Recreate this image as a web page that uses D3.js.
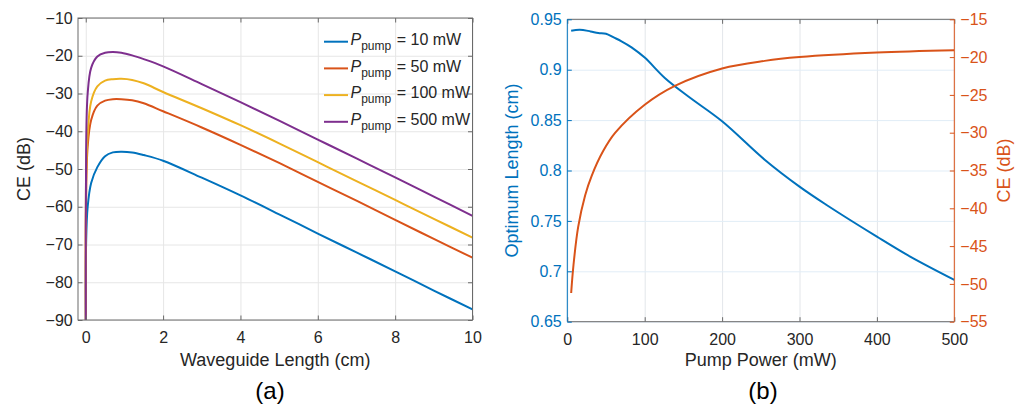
<!DOCTYPE html>
<html>
<head>
<meta charset="utf-8">
<script src="https://cdn.jsdelivr.net/npm/d3@7"></script>
<style>
body { margin: 0; background: #fff; }
svg { font-family: "Liberation Sans", Arial, Helvetica, sans-serif; }
</style>
</head>
<body>
<script>
// (a) CE vs waveguide length, one curve per pump power
const lenCm = [0.002, 0.01, 0.05, 0.14, 0.3, 0.5, 0.7, 0.92, 1.2, 1.5, 2, 3, 4, 5, 6, 7, 8, 9, 10]
const ce10 = [-90, -69.6, -60, -53.7, -49.5, -46.6, -45.6, -45.4, -45.6, -46.3, -47.8, -52.3, -57.0, -62.0, -67.1, -72.1, -77.1, -82.2, -87.2]
const ce50 = [-90, -58, -44, -37, -33.2, -31.9, -31.5, -31.5, -31.8, -32.6, -34.7, -39.0, -43.6, -48.4, -53.4, -58.4, -63.5, -68.5, -73.5]
const ce100 = [-90, -52, -41, -32.1, -28.1, -26.6, -26.2, -26.1, -26.4, -27.3, -29.6, -33.9, -38.4, -43.2, -48.2, -53.2, -58.2, -63.2, -68.2]
const ce500 = [-90, -45, -30, -23.2, -20.2, -19.2, -19.0, -19.2, -19.9, -20.9, -22.8, -27.5, -32.3, -37.2, -42.2, -47.2, -52.2, -57.3, -62.4]
const pumpLevels = [10, 50, 100, 500]
const colors = ["#0072BD", "#D95319", "#EDB120", "#7E2F8E"]
const xTicksA = [0, 2, 4, 6, 8, 10]
const yTicksA = [-90, -80, -70, -60, -50, -40, -30, -20, -10]

// (b) optimum length and CE vs pump power
const pumpOpt = [5, 16, 30, 40, 50, 60, 70, 83, 100, 126, 156, 200, 255, 300, 335, 400, 443, 500]
const optLen = [0.9387, 0.9397, 0.938, 0.9364, 0.9357, 0.932, 0.9282, 0.9222, 0.912, 0.8918, 0.8736, 0.8488, 0.8107, 0.784, 0.7658, 0.7344, 0.7146, 0.6915]
const pumpCe = [5, 8, 14, 23, 31.5, 46.5, 62, 100, 139, 200, 255, 300, 400, 500]
const ceOpt = [-51.2, -47.5, -42.5, -38.3, -35.7, -32.4, -30.0, -26.3, -23.8, -21.5, -20.5, -20.0, -19.4, -19.1]
const xTicksB = [0, 100, 200, 300, 400, 500]
const yTicksB = [0.65, 0.7, 0.75, 0.8, 0.85, 0.9, 0.95]
const yTicksB2 = [-55, -50, -45, -40, -35, -30, -25, -20, -15]

const w = 1015, h = 409
const txt = "#262626", boxCol = "#6a6a6a", tick = 4.5
const curve = d3.curveCatmullRom.alpha(0.5)

const svg = d3.select("body").append("svg").attr("width", w).attr("height", h)

function styleAxis(g, col, lab) {
  g.select(".domain").remove()
  g.selectAll(".tick line").attr("stroke", col)
  g.selectAll(".tick text").attr("fill", lab || txt).attr("font-size", 16)
}
function grid(g, col) {
  g.select(".domain").remove()
  g.selectAll(".tick line").attr("stroke", col)
  g.selectAll(".tick text").remove()
}

// ---------- panel (a) ----------
const xA = d3.scaleLinear().domain([-0.2, 10]).range([78, 472.5])
const yA = d3.scaleLinear().domain([-90, -10]).range([320, 18])
const [aL, aR] = xA.range(), [aB, aT] = yA.range()

svg.append("g").attr("transform", `translate(0,${aB})`).call(d3.axisBottom(xA).tickValues(xTicksA).tickSize(-(aB - aT)).tickFormat("")).call(grid, "#e6e6e6")
svg.append("g").attr("transform", `translate(${aL},0)`).call(d3.axisLeft(yA).tickValues(yTicksA).tickSize(-(aR - aL)).tickFormat("")).call(grid, "#e6e6e6")

svg.append("clipPath").attr("id", "clipA").append("rect").attr("x", aL).attr("y", aT).attr("width", aR - aL).attr("height", aB - aT)
const lineA = d3.line().x(d => xA(d[0])).y(d => yA(d[1])).curve(curve)
const seriesA = [ce10, ce50, ce100, ce500]
seriesA.forEach((s, i) => {
  svg.append("path").attr("clip-path", "url(#clipA)").attr("d", lineA(lenCm.map((l, j) => [l, s[j]])))
    .attr("fill", "none").attr("stroke", colors[i]).attr("stroke-width", 2)
})

svg.append("g").attr("transform", `translate(0,${aB})`).call(d3.axisBottom(xA).tickValues(xTicksA).tickSize(-tick).tickSizeOuter(0).tickPadding(11.5)).call(styleAxis, boxCol)
svg.append("g").attr("transform", `translate(0,${aT})`).call(d3.axisTop(xA).tickValues(xTicksA).tickSize(-tick).tickSizeOuter(0).tickFormat("")).call(styleAxis, boxCol)
svg.append("g").attr("transform", `translate(${aL},0)`).call(d3.axisLeft(yA).tickValues(yTicksA).tickSize(-tick).tickSizeOuter(0).tickPadding(5.3)).call(styleAxis, boxCol)
svg.append("g").attr("transform", `translate(${aR},0)`).call(d3.axisRight(yA).tickValues(yTicksA).tickSize(-tick).tickSizeOuter(0).tickFormat("")).call(styleAxis, boxCol)
svg.append("rect").attr("x", aL).attr("y", aT).attr("width", aR - aL).attr("height", aB - aT).attr("fill", "none").attr("stroke", boxCol).attr("stroke-width", 1)

// legend
const leg = svg.append("g")
pumpLevels.forEach((p, i) => {
  const by = 45 + i * 26.7
  leg.append("line").attr("x1", 324).attr("x2", 348).attr("y1", by - 3.3).attr("y2", by - 3.3).attr("stroke", colors[i]).attr("stroke-width", 2)
  const t = leg.append("text").attr("x", 350.5).attr("y", by).attr("fill", txt).attr("font-size", 16)
  t.append("tspan").attr("font-style", "italic").text("P")
  t.append("tspan").attr("font-size", 12).attr("dy", 5).text("pump")
  t.append("tspan").attr("x", 396.7).attr("dy", -5).text("= " + p + " mW")
})

svg.append("text").attr("x", (aL + aR) / 2).attr("y", 366).attr("text-anchor", "middle").attr("font-size", 18).attr("fill", txt).text("Waveguide Length (cm)")
svg.append("text").attr("transform", `translate(29.5,${(aT + aB) / 2}) rotate(-90)`).attr("text-anchor", "middle").attr("font-size", 18).attr("fill", txt).text("CE (dB)")
svg.append("text").attr("x", 270).attr("y", 399).attr("text-anchor", "middle").attr("font-size", 24).attr("fill", "#000").text("(a)")

// ---------- panel (b) ----------
const xB = d3.scaleLinear().domain([0, 500]).range([567.3, 954.3])
const yB = d3.scaleLinear().domain([0.65, 0.95]).range([321.7, 19.3])
const yB2 = d3.scaleLinear().domain([-55, -15]).range([321.7, 19.3])
const [bL, bR] = xB.range(), [bB, bT] = yB.range()

svg.append("g").attr("transform", `translate(0,${bB})`).call(d3.axisBottom(xB).tickValues(xTicksB).tickSize(-(bB - bT)).tickFormat("")).call(grid, "#e3e6ea")
svg.append("g").attr("transform", `translate(${bL},0)`).call(d3.axisLeft(yB).tickValues(yTicksB).tickSize(-(bR - bL)).tickFormat("")).call(grid, "#e1edf7")

svg.append("clipPath").attr("id", "clipB").append("rect").attr("x", bL).attr("y", bT).attr("width", bR - bL).attr("height", bB - bT)
svg.append("path").attr("clip-path", "url(#clipB)")
  .attr("d", d3.line().x(d => xB(d[0])).y(d => yB(d[1])).curve(curve)(pumpOpt.map((p, j) => [p, optLen[j]])))
  .attr("fill", "none").attr("stroke", colors[0]).attr("stroke-width", 2)
svg.append("path").attr("clip-path", "url(#clipB)")
  .attr("d", d3.line().x(d => xB(d[0])).y(d => yB2(d[1])).curve(curve)(pumpCe.map((p, j) => [p, ceOpt[j]])))
  .attr("fill", "none").attr("stroke", colors[1]).attr("stroke-width", 2)

svg.append("g").attr("transform", `translate(0,${bB})`).call(d3.axisBottom(xB).tickValues(xTicksB).tickSize(-tick).tickSizeOuter(0).tickPadding(11.5)).call(styleAxis, boxCol)
svg.append("g").attr("transform", `translate(0,${bT})`).call(d3.axisTop(xB).tickValues(xTicksB).tickSize(-tick).tickSizeOuter(0).tickFormat("")).call(styleAxis, boxCol)
svg.append("line").attr("x1", bL).attr("x2", bR).attr("y1", bB).attr("y2", bB).attr("stroke", boxCol)
svg.append("line").attr("x1", bL).attr("x2", bR).attr("y1", bT).attr("y2", bT).attr("stroke", boxCol)
svg.append("g").attr("transform", `translate(${bL},0)`).call(d3.axisLeft(yB).tickValues(yTicksB).tickSize(-tick).tickSizeOuter(0).tickPadding(5.6).tickFormat(d => String(+d.toFixed(2)))).call(styleAxis, colors[0], colors[0])
svg.append("g").attr("transform", `translate(${bR},0)`).call(d3.axisRight(yB2).tickValues(yTicksB2).tickSize(-tick).tickSizeOuter(0).tickPadding(6).tickFormat(d3.format("d"))).call(styleAxis, colors[1], colors[1])
svg.append("line").attr("x1", bL).attr("x2", bL).attr("y1", bT).attr("y2", bB).attr("stroke", colors[0])
svg.append("line").attr("x1", bR).attr("x2", bR).attr("y1", bT).attr("y2", bB).attr("stroke", colors[1])

svg.append("text").attr("x", (bL + bR) / 2).attr("y", 366).attr("text-anchor", "middle").attr("font-size", 18).attr("fill", txt).text("Pump Power (mW)")
svg.append("text").attr("transform", `translate(518,${(bT + bB) / 2}) rotate(-90)`).attr("text-anchor", "middle").attr("font-size", 18).attr("fill", colors[0]).text("Optimum Length (cm)")
svg.append("text").attr("transform", `translate(1010,${(bT + bB) / 2}) rotate(-90)`).attr("text-anchor", "middle").attr("font-size", 18).attr("fill", colors[1]).text("CE (dB)")
svg.append("text").attr("x", 763).attr("y", 399).attr("text-anchor", "middle").attr("font-size", 24).attr("fill", "#000").text("(b)")
</script>
</body>
</html>
